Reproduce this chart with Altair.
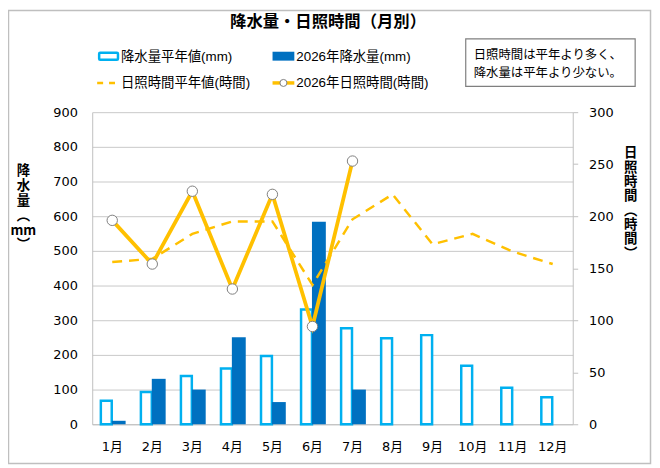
import pandas as pd
import altair as alt

# monthly values
months = ["1月", "2月", "3月", "4月", "5月", "6月", "7月", "8月", "9月", "10月", "11月", "12月"]
rain_avg = [68, 93, 139, 161, 197, 331, 277, 248, 257, 169, 105, 78]
rain_2026 = [10, 131, 100, 251, 64, 584, 100, None, None, None, None, None]
sun_avg = [156, 159, 183, 195, 195, 134, 197, 221, 173, 183, 166, 154]
sun_2026 = [196, 154, 224, 130, 221, 94, 253, None, None, None, None, None]

legend_labels = ["降水量平年値(mm)", "2026年降水量(mm)", "日照時間平年値(時間)", "2026年日照時間(時間)"]
note_lines = ["日照時間は平年より多く、", "降水量は平年より少ない。"]
title_text = "降水量・日照時間（月別）"

LIGHT = "#00B0F0"
DARK = "#0070C0"
ORANGE = "#FFC000"
GRID = "#C8C8C8"
CJK = "Noto Sans CJK JP"
NUM = "DejaVu Sans, Noto Sans CJK JP"

df = pd.DataFrame({
    "month": months,
    "rain_avg": rain_avg,
    "rain_2026": rain_2026,
    "sun_avg": sun_avg,
    "sun_2026": sun_2026,
})

x_enc = alt.X("month:N", sort=months, title=None,
              scale=alt.Scale(paddingInner=0, paddingOuter=0),
              axis=alt.Axis(labelAngle=0, ticks=False, domainColor="#BFBFBF",
                            labelPadding=16, labelFontSize=13, labelFont=NUM,
                            labelColor="#000000"))

rain_scale = alt.Scale(domain=[0, 900])
sun_scale = alt.Scale(domain=[0, 300])

base = alt.Chart(df)

# rainfall bars (left axis)
avg_bar = base.mark_bar(width=11, xOffset=-6, fill="white", stroke=LIGHT,
                        strokeWidth=2.5).encode(
    x=x_enc,
    y=alt.Y("rain_avg:Q", scale=rain_scale, title=["降", "水", "量", "︵", "mm", "︶"],
            axis=alt.Axis(orient="left", values=list(range(0, 901, 100)),
                          grid=True, gridColor=GRID, domainColor="#BFBFBF",
                          ticks=False, labelPadding=15, labelFontSize=13,
                          labelFont=NUM, labelColor="#000000",
                          titleAngle=0, titleX=-70, titleY=52,
                          titleAlign="center", titleBaseline="top",
                          titleFont=CJK, titleFontSize=13.5,
                          titleFontWeight="bold", titleLineHeight=15,
                          titleColor="#000000"))
)
bar26 = base.mark_bar(width=14, xOffset=6.5, color=DARK).encode(
    x=x_enc,
    y=alt.Y("rain_2026:Q", scale=rain_scale, axis=None)
)

# sunshine lines (right axis)
avg_line = base.mark_line(color=ORANGE, strokeWidth=2.5, strokeDash=[10, 7]).encode(
    x=x_enc,
    y=alt.Y("sun_avg:Q", scale=sun_scale,
            title=["日", "照", "時", "間", "︵", "時", "間", "︶"],
            axis=alt.Axis(orient="right", values=list(range(0, 301, 50)),
                          grid=False, domainColor="#BFBFBF", ticks=True,
                          tickSize=5, tickColor="#BFBFBF", labelPadding=11,
                          labelFontSize=13, labelFont=NUM, labelColor="#000000",
                          titleAngle=0, titleX=58, titleY=34,
                          titleAlign="center", titleBaseline="top",
                          titleFont=CJK, titleFontSize=13.5,
                          titleFontWeight="bold", titleLineHeight=14.5,
                          titleColor="#000000"))
)
line26 = base.mark_line(color=ORANGE, strokeWidth=3.8).encode(
    x=x_enc,
    y=alt.Y("sun_2026:Q", scale=sun_scale, axis=None)
)
pts26 = base.mark_point(shape="circle", filled=True, fill="white", stroke="#7F7F7F",
                        strokeWidth=1, size=110, opacity=1).encode(
    x=x_enc,
    y=alt.Y("sun_2026:Q", scale=sun_scale, axis=None)
)

# decorations: border, title, legend, note box
one = alt.Chart(pd.DataFrame({"a": [0]}))

border = one.mark_rect(fillOpacity=0, stroke="#BFBFBF", strokeWidth=1.5).encode(
    x=alt.value(-84.5), x2=alt.value(563.5), y=alt.value(-102.5), y2=alt.value(354.5))

title = one.mark_text(text=title_text, font=CJK, fontSize=16.5, fontWeight="bold",
                      align="center", baseline="middle", color="#000000").encode(
    x=alt.value(238), y=alt.value(-91))

leg1 = one.mark_rect(fill="white", stroke=LIGHT, strokeWidth=2.5, cornerRadius=1).encode(
    x=alt.value(7), x2=alt.value(26), y=alt.value(-60), y2=alt.value(-53))
leg2 = one.mark_rect(fill=DARK).encode(
    x=alt.value(182), x2=alt.value(204), y=alt.value(-61), y2=alt.value(-52))
leg3 = one.mark_rule(color=ORANGE, strokeWidth=2.5, strokeDash=[6, 6]).encode(
    x=alt.value(5), x2=alt.value(27), y=alt.value(-29.5))
leg4 = one.mark_rule(color=ORANGE, strokeWidth=3.5).encode(
    x=alt.value(182), x2=alt.value(204), y=alt.value(-29.5))
leg4p = one.mark_point(shape="circle", filled=True, fill="white", stroke="#7F7F7F",
                       strokeWidth=1, size=50, opacity=1).encode(
    x=alt.value(193), y=alt.value(-29.5))

leg_pos = [(29, -56), (206, -56), (29, -29), (206, -29)]
leg_texts = [
    one.mark_text(text=t, font="Liberation Sans, Noto Sans CJK JP", fontSize=13.5,
                  align="left", baseline="middle", color="#000000").encode(
        x=alt.value(px), y=alt.value(py))
    for t, (px, py) in zip(legend_labels, leg_pos)
]

note_box = one.mark_rect(fill="white", stroke="#7F7F7F", strokeWidth=1.2).encode(
    x=alt.value(377), x2=alt.value(548), y=alt.value(-74), y2=alt.value(-26))
note_texts = [
    one.mark_text(text=t, font=CJK, fontSize=12.5, align="left", baseline="middle",
                  color="#000000").encode(x=alt.value(385), y=alt.value(py))
    for t, py in zip(note_lines, [-58, -39])
]

chart = alt.layer(
    border, avg_bar, bar26, avg_line, line26, pts26,
    title, leg1, leg2, leg3, leg4, leg4p, *leg_texts, note_box, *note_texts
).resolve_scale(
    y="independent"
).properties(
    width=485,
    height=315,
    autosize=alt.AutoSizeParams(type="none"),
    padding={"left": 85, "top": 103, "right": 80, "bottom": 40},
    background="white",
).configure_view(
    strokeWidth=0
)

chart.save("out.html", embed_options={"renderer": "svg", "actions": False})
